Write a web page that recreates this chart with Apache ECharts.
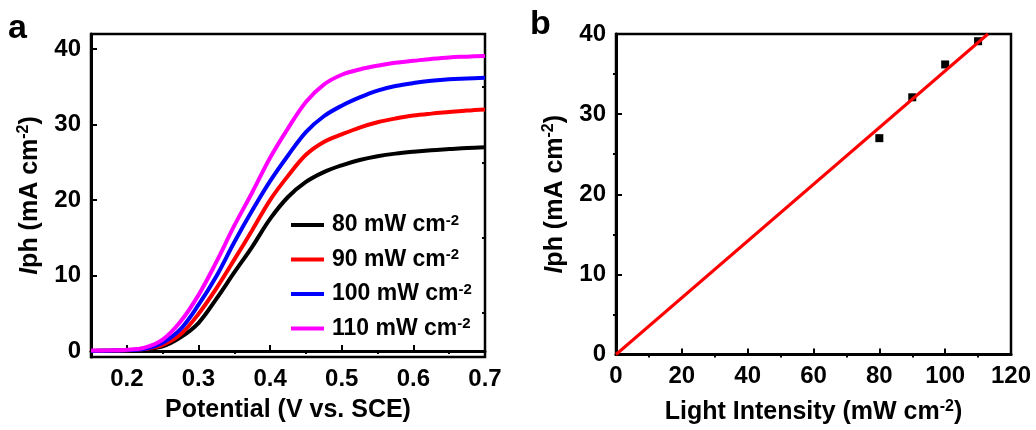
<!DOCTYPE html>
<html>
<head>
<meta charset="utf-8">
<script src="https://cdn.jsdelivr.net/npm/echarts@6/dist/echarts.min.js"></script>
<style>
  html, body { margin: 0; padding: 0; background: #fff; }
  #chart { width: 1036px; height: 430px; }
</style>
</head>
<body>
<div id="chart"></div>
<script>
// panel a: photocurrent vs potential
const potential = [0.15, 0.175, 0.2, 0.225, 0.25, 0.275, 0.3, 0.325, 0.35, 0.375, 0.4, 0.425, 0.45, 0.475, 0.5, 0.525, 0.55, 0.575, 0.6, 0.625, 0.65, 0.675, 0.7];
const iph80 = [0, 0.03, 0.08, 0.2, 0.6, 1.8, 3.7, 6.9, 10.4, 13.8, 17.5, 20.4, 22.4, 23.7, 24.6, 25.3, 25.8, 26.15, 26.4, 26.6, 26.75, 26.9, 27.0];
const iph90 = [0, 0.04, 0.1, 0.25, 0.8, 2.2, 4.9, 8.3, 12.1, 16.0, 20.0, 23.2, 26.0, 27.7, 28.7, 29.6, 30.3, 30.8, 31.2, 31.45, 31.65, 31.85, 32.0];
const iph100 = [0, 0.04, 0.1, 0.3, 1.1, 2.9, 6.1, 9.9, 14.4, 18.6, 22.5, 25.9, 29.0, 31.1, 32.5, 33.6, 34.5, 35.1, 35.5, 35.8, 36.0, 36.1, 36.2];
const iph110 = [0.05, 0.08, 0.15, 0.45, 1.5, 3.9, 7.4, 11.8, 16.6, 21.0, 25.6, 29.5, 33.0, 35.3, 36.6, 37.3, 37.8, 38.2, 38.45, 38.7, 38.9, 39.0, 39.1];
const seriesNames = ["80 mW cm-2", "90 mW cm-2", "100 mW cm-2", "110 mW cm-2"];
const lineColors = ["#000000", "#ff0000", "#0000ff", "#ff00ff"];

// panel b: photocurrent vs light intensity
const intensity = [80, 90, 100, 110];
const iphPlateau = [27.0, 32.1, 36.2, 39.1];
const fitX = [0, 113];
const fitY = [0, 40];

// ticks
const aXTicks = [0.2, 0.3, 0.4, 0.5, 0.6, 0.7];
const aXMinor = [0.25, 0.35, 0.45, 0.55, 0.65];
const aYTicks = [0, 10, 20, 30, 40];
const aYMinor = [5, 15, 25, 35];
const bXTicks = [0, 20, 40, 60, 80, 100, 120];
const bXMinor = [10, 30, 50, 70, 90, 110];
const bYTicks = [0, 10, 20, 30, 40];
const bYMinor = [5, 15, 25, 35];

const FONT = "Liberation Sans";
const txt = { fontFamily: FONT, fontWeight: "bold", fontSize: 24, color: "#000" };
const supRich = {
  t: { fontFamily: FONT, fontWeight: "bold", fontSize: 25, lineHeight: 28, color: "#000" },
  i: { fontFamily: FONT, fontWeight: "bold", fontStyle: "italic", fontSize: 25, lineHeight: 28, color: "#000" },
  s: { fontFamily: FONT, fontWeight: "bold", fontSize: 16, lineHeight: 10, color: "#000", verticalAlign: "top" }
};

function mainAxis(gridIndex, min, max, ticks, name, nameGap, fmt) {
  return {
    type: "value", gridIndex: gridIndex, min: min, max: max,
    name: name, nameLocation: "middle", nameGap: nameGap,
    nameTextStyle: { ...txt, fontSize: 25, rich: supRich },
    axisLine: { show: true, lineStyle: { color: "#000", width: 3 } },
    axisTick: { show: true, inside: true, length: 6, lineStyle: { color: "#000", width: 2 }, customValues: ticks },
    axisLabel: { ...txt, margin: 10, customValues: ticks, formatter: fmt },
    splitLine: { show: false }
  };
}
function minorAxis(gridIndex, min, max, ticks) {
  return {
    type: "value", gridIndex: gridIndex, min: min, max: max,
    axisLine: { show: false },
    axisTick: { show: true, inside: true, length: 3, lineStyle: { color: "#000", width: 2 }, customValues: ticks },
    axisLabel: { show: false },
    splitLine: { show: false }
  };
}

const chart = echarts.init(document.getElementById("chart"), null, { renderer: "canvas" });

const curves = [iph80, iph90, iph100, iph110].map((vals, k) => ({
  name: seriesNames[k],
  type: "line",
  xAxisIndex: 0, yAxisIndex: 0,
  data: potential.map((p, j) => [p, vals[j]]),
  showSymbol: false,
  smooth: 0.35,
  lineStyle: { color: lineColors[k], width: 4 },
  itemStyle: { color: lineColors[k] },
  z: 3
}));

chart.setOption({
  animation: false,
  title: [
    { text: "a", left: 3, top: 7, textStyle: { fontFamily: FONT, fontWeight: "bold", fontSize: 34, color: "#000" } },
    { text: "b", left: 525, top: 3, textStyle: { fontFamily: FONT, fontWeight: "bold", fontSize: 34, color: "#000" } }
  ],
  grid: [
    { left: 91, right: 551, top: 34, bottom: 73, show: true, borderColor: "#000", borderWidth: 2.5 },
    { left: 616, right: 25, top: 34, bottom: 73, show: true, borderColor: "#000", borderWidth: 2.5 }
  ],
  legend: {
    orient: "vertical", left: 286, top: 208, itemGap: 11,
    itemWidth: 33, itemHeight: 4, icon: "rect",
    data: seriesNames,
    formatter: (n) => "{t|" + n.replace(" cm-2", " cm") + "}{s|-2}",
    textStyle: { ...txt, fontSize: 22, padding: [0, 0, 0, 3], rich: {
      t: { fontFamily: FONT, fontWeight: "bold", fontSize: 23, lineHeight: 24, color: "#000" },
      s: { fontFamily: FONT, fontWeight: "bold", fontSize: 15, lineHeight: 8, color: "#000", verticalAlign: "top" }
    } }
  },
  xAxis: [
    mainAxis(0, 0.15, 0.7, aXTicks, "Potential (V vs. SCE)", 41, (v) => v.toFixed(1)),
    minorAxis(0, 0.15, 0.7, aXMinor),
    mainAxis(1, 0, 120, bXTicks, "{t|Light Intensity (mW cm}{s|-2}{t|)}", 44, (v) => String(v)),
    minorAxis(1, 0, 120, bXMinor)
  ],
  yAxis: [
    mainAxis(0, -0.8, 42, aYTicks, "{i|I}{t|ph (mA cm}{s|-2}{t|)}", 47, (v) => String(v)),
    minorAxis(0, -0.8, 42, aYMinor),
    mainAxis(1, 0, 40, bYTicks, "{i|I}{t|ph (mA cm}{s|-2}{t|)}", 47, (v) => String(v)),
    minorAxis(1, 0, 40, bYMinor)
  ],
  series: curves.concat([
    {
      name: "fit", type: "line", xAxisIndex: 2, yAxisIndex: 2,
      data: fitX.map((x, j) => [x, fitY[j]]),
      showSymbol: false,
      lineStyle: { color: "#ff0000", width: 3 },
      z: 3
    },
    {
      name: "data", type: "scatter", xAxisIndex: 2, yAxisIndex: 2,
      data: intensity.map((x, j) => [x, iphPlateau[j]]),
      symbol: "rect", symbolSize: 8,
      itemStyle: { color: "#000", opacity: 1 },
      z: 2
    }
  ])
});
</script>
</body>
</html>
